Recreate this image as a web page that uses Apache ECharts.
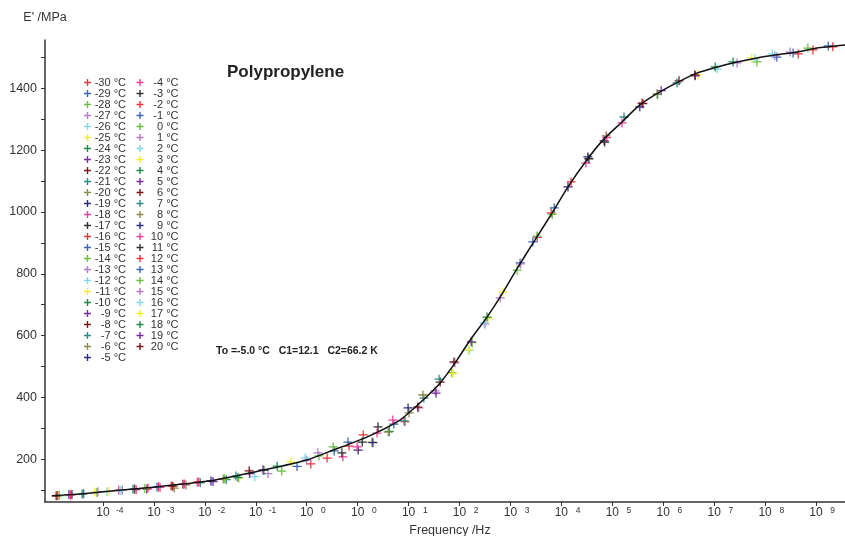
<!DOCTYPE html>
<html><head><meta charset="utf-8">
<script src="https://cdn.jsdelivr.net/npm/echarts@6/dist/echarts.min.js"></script>
<style>html,body{margin:0;padding:0;background:#fff}#c{width:845px;height:536px}</style>
</head><body><div id="c"></div>
<script>
// Temperatures (legend / series)
const temps = [-30,-29,-28,-27,-26,-25,-24,-23,-22,-21,-20,-19,-18,-17,-16,-15,-14,-13,-12,-11,-10,-9,-8,-7,-6,-5,
               -4,-3,-2,-1,0,1,2,3,4,5,6,7,8,9,10,11,12,13,14,15,16,17,18,19,20];
const palette = ['#f0353a','#3a66b8','#6cc040','#b57ac8','#80d8e8','#f2ee2e','#1f8a4a','#7a2ca0',
                 '#7a1a1a','#2a8a8a','#8c8c4a','#2a2a80','#f0409a','#333333'];
// Measured points: [x position on decade axis, E' (MPa), temperature]
const markers = [
[-4.92,82,20],[-4.89,83,12],[-4.86,83,14],
[-4.67,86,19],[-4.64,85,12],[-4.61,86,9],
[-4.41,88,18],[-4.38,89,13],
[-4.16,94,17],[-4.12,93,14],[-4.10,95,15],
[-3.92,95,16],[-3.88,96,17],
[-3.69,100,10],[-3.65,99,16],[-3.62,101,15],
[-3.41,103,18],[-3.38,104,19],[-3.35,102,12],
[-3.18,106,14],[-3.14,104,5],[-3.12,107,12],
[-2.94,110,13],[-2.91,111,12],[-2.88,109,10],
[-2.66,114,12],[-2.63,113,20],[-2.60,107,8],
[-2.43,119,6],[-2.40,120,10],[-2.37,117,8],
[-2.15,126,10],[-2.12,127,12],[-2.09,124,7],
[-1.88,130,9],[-1.84,128,5],
[-1.64,136,8],[-1.61,137,14],[-1.58,134,7],
[-1.39,146,7],[-1.35,141,4],[-1.32,139,3],
[-1.13,163,6],[-1.12,154,5],[-1.02,144,2],
[-0.86,166,5],[-0.84,164,4],[-0.76,154,1],
[-0.58,178,4],[-0.49,162,0],
[-0.31,192,3],[-0.19,177,-1],
[-0.03,205,2],[0.00,197,1],[0.08,185,-2],
[0.22,221,1],[0.24,211,0],[0.40,204,-2],
[0.52,240,0],[0.54,227,-1],
[0.69,221,-3],[0.71,208,-4],
[0.81,256,-1],[0.83,243,-2],
[0.99,240,-4],[1.01,230,-5],
[1.11,279,-2],[1.09,256,-3],
[1.28,256,-6],[1.30,254,-5],
[1.40,305,-3],[1.38,285,-4],
[1.60,288,-6],[1.62,290,-10],
[1.69,327,-4],[1.71,314,-15],
[1.91,324,-7],[1.93,322,-16],
[1.99,366,-5],[2.01,350,-6],
[2.18,369,-8],[2.20,366,-13],
[2.28,408,-6],[2.30,398,-7],
[2.52,421,-13],[2.54,414,-9],
[2.60,459,-7],[2.62,450,-8],
[2.85,480,-14],[2.87,478,-11],
[2.89,515,-8],[2.91,512,-13],
[3.17,554,-11],[3.19,552,-12],
[3.23,580,-9],[3.25,577,-14],
[3.48,641,-12],[3.50,638,-13],
[3.54,660,-10],[3.56,657,-11],
[3.80,722,-13],[3.85,741,-11],
[4.13,812,-14],[4.19,835,-15],[4.20,832,-13],
[4.44,903,-15],[4.52,922,-14],[4.53,918,-18],
[4.80,997,-16],[4.82,992,-14],[4.86,1013,-15],
[5.13,1081,-19],[5.19,1097,-16],
[5.48,1158,-18],[5.52,1178,-19],[5.54,1172,-17],
[5.84,1230,-19],[5.85,1226,-17],[5.88,1246,-20],[5.89,1240,-18],
[6.19,1288,-18],[6.23,1307,-21],
[6.54,1340,-19],[6.58,1352,-30],[6.60,1350,-22],
[6.88,1382,-20],[6.89,1380,-21],[6.96,1392,-23],
[7.27,1417,-21],[7.31,1424,-22],
[7.62,1443,-22],[7.63,1440,-23],[7.68,1443,-25],
[8.02,1469,-24],[8.06,1462,-26],
[8.37,1485,-24],[8.45,1482,-27],
[8.74,1498,-25],[8.80,1495,-26],[8.84,1485,-28],
[9.14,1511,-26],[9.19,1505,-27],[9.23,1501,-29],
[9.49,1517,-27],[9.55,1514,-29],[9.65,1511,-30],
[9.84,1530,-28],[9.94,1524,-30],
[10.24,1537,-29],[10.33,1534,-30]
];
// Master curve
const curveX = [-5.00,-4.45,-4.00,-3.02,-2.00,-1.00,0.00,0.52,1.18,1.83,2.22,2.62,2.95,3.21,3.54,3.80,4.15,4.48,4.82,5.13,5.50,5.82,6.19,6.54,6.90,7.29,7.66,8.06,8.45,8.84,9.23,9.63,10.02,10.57];
const curveY = [82,88,95,110,128,160,198,230,272,327,382,447,521,586,660,725,822,909,997,1081,1168,1233,1291,1346,1385,1420,1449,1469,1485,1498,1508,1517,1530,1540];
// Axis ticks and labels
const xTickPos = [-4,-3,-2,-1,0,1,2,3,4,5,6,7,8,9,10];
const xTickExp = ['-4','-3','-2','-1','0','0','1','2','3','4','5','6','7','8','9'];
const yLabelVals = [200,400,600,800,1000,1200,1400];
const yTickVals = [100,200,300,400,500,600,700,800,900,1000,1100,1200,1300,1400,1500];

const FONT = 'Liberation Sans, Arial, sans-serif';
const PLUS = 'path://M4.3,0H5.7V4.3H10V5.7H5.7V10H4.3V5.7H0V4.3H4.3Z';
const PLUS_LEG = 'path://M4,0H6V4H10V6H6V10H4V6H0V4H4Z';
const nm = t => t + ' °C';

const series = temps.map((t, i) => ({
  type: 'scatter', name: nm(t), symbol: PLUS, symbolSize: 9, silent: true, z: 2,
  itemStyle: { color: palette[i % 14], opacity: 1 },
  data: markers.filter(m => m[2] === t).map(m => [m[0], m[1]])
}));
series.push({
  type: 'line', data: curveX.map((x, i) => [x, curveY[i]]), smooth: 0.2,
  symbol: 'none', silent: true, z: 5, lineStyle: { color: '#111', width: 1.5 }
});

const legendCommon = {
  orient: 'vertical', itemWidth: 7, itemHeight: 7, itemGap: 0, icon: PLUS_LEG, selectedMode: false, padding: 0,
  formatter: n => '{t|' + n + '}',
  textStyle: { fontFamily: FONT, rich: { t: { width: 30, align: 'right', fontSize: 11, lineHeight: 12.6, color: '#333', fontFamily: FONT } } }
};

const chart = echarts.init(document.getElementById('c'), null, { renderer: 'canvas' });
chart.setOption({
  animation: false,
  backgroundColor: '#fff',
  textStyle: { fontFamily: FONT },
  grid: { left: 45, top: 40, right: 0, bottom: 34, containLabel: false, outerBoundsMode: 'none' },
  title: { text: 'Polypropylene', left: 227, top: 64, padding: 0,
    textStyle: { fontSize: 17, fontWeight: 'bold', color: '#222', fontFamily: FONT } },
  legend: [
    Object.assign({}, legendCommon, { left: 84, top: 77, data: temps.slice(0, 26).map(nm) }),
    Object.assign({}, legendCommon, { left: 136.5, top: 77, data: temps.slice(26).map(nm) })
  ],
  xAxis: {
    type: 'value', min: -5.139, max: 10.569,
    axisLine: { onZero: false, lineStyle: { color: '#333', width: 1.5 } },
    axisTick: { show: true, customValues: xTickPos, length: 4, lineStyle: { color: '#333', width: 1 } },
    splitLine: { show: false },
    axisLabel: {
      customValues: xTickPos, margin: 4, color: '#333',
      formatter: v => '{sp|}{b|10}{s|' + xTickExp[xTickPos.indexOf(Math.round(v))] + '}',
      rich: {
        sp: { width: 16 },
        b: { fontSize: 12, lineHeight: 14, color: '#333', fontFamily: FONT },
        s: { fontSize: 8.5, lineHeight: 9, width: 12, padding: [0, 0, 0, 4], verticalAlign: 'top', align: 'left', color: '#333', fontFamily: FONT }
      }
    },
    name: 'Frequency /Hz', nameLocation: 'middle', nameGap: 21,
    nameTextStyle: { fontSize: 12.5, color: '#333', fontFamily: FONT, padding: [0, 0, 0, 10] }
  },
  yAxis: {
    type: 'value', min: 62, max: 1556,
    axisLine: { show: true, onZero: false, lineStyle: { color: '#333', width: 1.5 } },
    axisTick: { show: true, customValues: yTickVals, length: 4, lineStyle: { color: '#333', width: 1 } },
    splitLine: { show: false },
    axisLabel: { customValues: yLabelVals, margin: 8, fontSize: 12.5, color: '#333', fontFamily: FONT,
      formatter: v => String(v) },
    name: "E' /MPa", nameLocation: 'end', nameGap: 16,
    nameTextStyle: { fontSize: 12.5, color: '#333', fontFamily: FONT, align: 'center' }
  },
  graphic: [{
    type: 'text', left: 216, top: 346, silent: true,
    style: { text: 'To =-5.0 °C   C1=12.1   C2=66.2 K', fontSize: 10.5, fontWeight: 'bold', fill: '#222', fontFamily: FONT }
  }],
  series: series
});
</script>
</body></html>
